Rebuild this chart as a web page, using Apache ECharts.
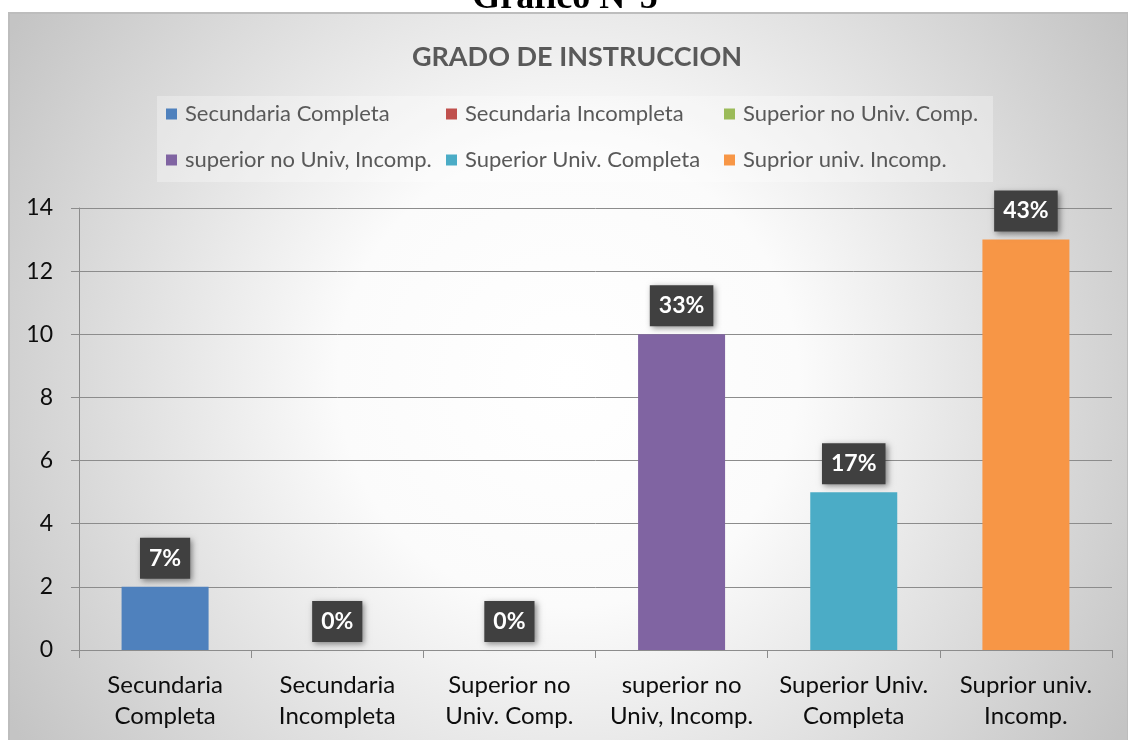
<!DOCTYPE html>
<html>
<head>
<meta charset="utf-8">
<script src="https://cdn.jsdelivr.net/npm/echarts@6/dist/echarts.min.js"></script>
<style>
html,body{margin:0;padding:0;background:#fff;}
#chart{width:1128px;height:740px;}
</style>
</head>
<body>
<div id="chart"></div>
<script>
const categories = ['Secundaria\nCompleta', 'Secundaria\nIncompleta', 'Superior no\nUniv. Comp.', 'superior no\nUniv, Incomp.', 'Superior Univ.\nCompleta', 'Suprior univ.\nIncomp.'];
const seriesNames = ['Secundaria Completa', 'Secundaria Incompleta', 'Superior no Univ. Comp.', 'superior no Univ, Incomp.', 'Superior Univ. Completa', 'Suprior univ. Incomp.'];
const values = [2, 0, 0, 10, 5, 13];
const percentLabels = ['7%', '0%', '0%', '33%', '17%', '43%'];
const colors = ['#4f81bd', '#c0504d', '#9bbb59', '#8064a2', '#4bacc6', '#f79646'];
const yTicks = [0, 2, 4, 6, 8, 10, 12, 14];

const FONT = 'Lato';

const series = seriesNames.map(function (name, i) {
  return {
    name: name,
    type: 'bar',
    stack: 'all',
    barWidth: 87,
    itemStyle: { color: colors[i] },
    data: values.map(function (v, j) { return j === i ? v : '-'; }),
    label: {
      show: true,
      position: 'top',
      distance: 8,
      formatter: function (p) { return percentLabels[p.dataIndex]; },
      backgroundColor: '#404040',
      color: '#ffffff',
      fontFamily: FONT,
      fontWeight: 'bold',
      fontSize: 23,
      lineHeight: 25,
      padding: [8, 9, 8, 9],
      shadowBlur: 6,
      shadowColor: 'rgba(0,0,0,0.45)',
      shadowOffsetX: 2,
      shadowOffsetY: 2
    },
    emphasis: { disabled: true }
  };
});

function legendCol(left, names) {
  return {
    orient: 'vertical',
    left: left,
    top: 103,
    padding: 0,
    itemWidth: 11,
    itemHeight: 11,
    itemGap: 24,
    icon: 'rect',
    selectedMode: false,
    data: names,
    textStyle: { fontFamily: FONT, fontSize: 22, color: '#595959', lineHeight: 22, padding: [0, 0, 0, 3] }
  };
}

const chart = echarts.init(document.getElementById('chart'), null, { renderer: 'canvas' });
chart.setOption({
  animation: false,
  backgroundColor: '#ffffff',
  graphic: [
    {
      type: 'rect',
      z: -100,
      shape: { x: 9, y: 13, width: 1119, height: 728 },
      style: {
        fill: {
          type: 'radial', x: 0.5, y: 0.5, r: 0.9,
          colorStops: [
            { offset: 0, color: '#ffffff' },
            { offset: 0.35, color: '#fbfbfb' },
            { offset: 1, color: '#c4c4c4' }
          ]
        },
        stroke: '#bdbdbd',
        lineWidth: 2
      }
    },
    {
      type: 'rect',
      z: -90,
      shape: { x: 157, y: 96, width: 836, height: 86 },
      style: { fill: 'rgba(255,255,255,0.3)' }
    },
    {
      type: 'text',
      z: 10,
      x: 565,
      y: -1,
      style: {
        text: 'Gráfico N°5',
        font: 'bold 36px "Liberation Serif"',
        fill: '#000',
        align: 'center',
        verticalAlign: 'middle'
      }
    }
  ],
  title: {
    text: 'GRADO DE INSTRUCCION',
    left: 572,
    textAlign: 'center',
    top: 39,
    textStyle: { fontFamily: FONT, fontSize: 27, fontWeight: 'bold', color: '#595959' }
  },
  legend: [
    legendCol(166, [seriesNames[0], seriesNames[3]]),
    legendCol(446, [seriesNames[1], seriesNames[4]]),
    legendCol(724, [seriesNames[2], seriesNames[5]])
  ],
  grid: { left: 79, right: 16, top: 208, bottom: 90, containLabel: false },
  xAxis: {
    type: 'category',
    data: categories,
    axisLine: { show: true, lineStyle: { color: '#8c8c8c', width: 1 } },
    axisTick: { show: true, length: 8, lineStyle: { color: '#8c8c8c' } },
    axisLabel: { fontFamily: FONT, fontSize: 24, lineHeight: 31, color: '#0d0d0d', margin: 20, interval: 0 }
  },
  yAxis: {
    type: 'value',
    min: 0,
    max: 14,
    interval: 2,
    axisLine: { show: true, lineStyle: { color: '#8c8c8c', width: 1 } },
    axisTick: { show: true, length: 8, lineStyle: { color: '#8c8c8c' } },
    splitLine: { show: true, lineStyle: { color: '#8c8c8c', width: 1 } },
    axisLabel: {
      fontFamily: FONT, fontSize: 23, color: '#0d0d0d', margin: 26,
      formatter: function (v) { return yTicks.indexOf(v) >= 0 ? String(v) : ''; }
    }
  },
  series: series
});
</script>
</body>
</html>
